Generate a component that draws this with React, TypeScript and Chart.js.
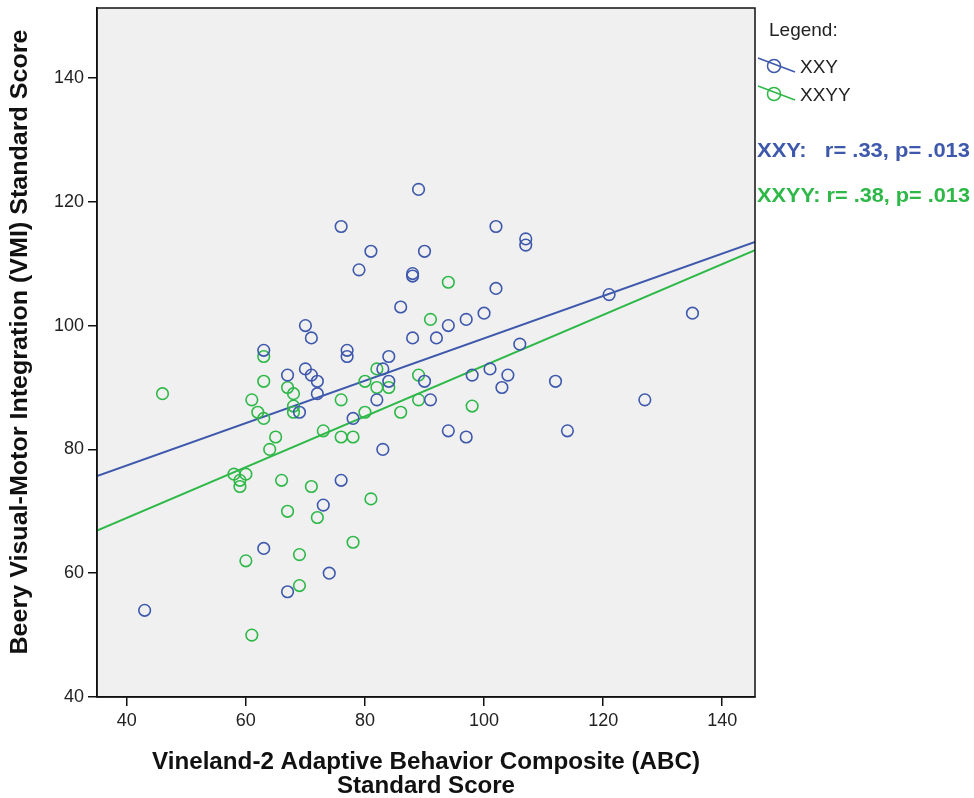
import React, { useEffect, useRef } from "react";
import { Chart, registerables } from "chart.js";
Chart.register(...registerables);

// XXY group (Vineland ABC, VMI)
const xxyX = [43, 63, 63, 67, 67, 69, 70, 70, 71, 71, 72, 72, 73, 74, 76, 76, 77, 77, 78, 79, 81, 82, 83, 83, 84, 84, 86, 88, 88, 88, 89, 90, 90, 91, 92, 94, 94, 97, 97, 98, 100, 101, 102, 102, 103, 104, 106, 107, 107, 112, 114, 121, 127, 135];
const xxyY = [54, 96, 64, 57, 92, 86, 100, 93, 98, 92, 91, 89, 71, 60, 116, 75, 96, 95, 85, 109, 112, 88, 93, 80, 95, 91, 103, 108, 108.4, 98, 122, 112, 91, 88, 98, 100, 83, 101, 82, 92, 102, 93, 116, 106, 90, 92, 97, 114, 113, 91, 83, 105, 88, 102];

// XXYY group
const xxyyX = [46, 58, 59, 59, 60, 60, 61, 61, 62, 63, 63, 63, 64, 65, 66, 67, 67, 68, 68, 68, 69, 69, 71, 72, 73, 76, 76, 78, 78, 80, 80, 81, 82, 82, 84, 86, 89, 89, 91, 94, 98];
const xxyyY = [89, 76, 75, 74, 76, 62, 88, 50, 86, 95, 91, 85, 80, 82, 75, 90, 70, 89, 87, 86, 63, 58, 74, 69, 83, 88, 82, 82, 65, 91, 86, 72, 93, 90, 90, 86, 92, 88, 101, 107, 87];

// Fit lines (endpoints at the axis limits)
const fitX = [35, 145.5];
const xxyFitY = [75.7, 113.5];
const xxyyFitY = [66.9, 112.2];

const xTicks = [40, 60, 80, 100, 120, 140];
const yTicks = [40, 60, 80, 100, 120, 140];
const seriesNames = ["XXY", "XXYY"];
const statsLabels = ["XXY:   r= .33, p= .013", "XXYY: r= .38, p= .013"];
const xTitle = ["Vineland-2 Adaptive Behavior Composite (ABC)", "Standard Score"];
const yTitle = "Beery Visual-Motor Integration (VMI) Standard Score";
const legendTitle = "Legend:";

const BLUE = "#3E58AC";
const GREEN = "#2EB848";
const FONT = "'Liberation Sans', Arial, sans-serif";

function toPts(xs: number[], ys: number[]) {
  return xs.map((x, i) => ({ x, y: ys[i] }));
}

function fitText(ctx: CanvasRenderingContext2D, text: string, x: number, y: number, font: string, color: string, width: number, align: "left" | "center") {
  ctx.save();
  ctx.font = font;
  ctx.fillStyle = color;
  ctx.textBaseline = "middle";
  const w = ctx.measureText(text).width;
  const s = width / w;
  ctx.translate(x, y);
  ctx.scale(s, 1);
  ctx.textAlign = align;
  ctx.fillText(text, 0, 0);
  ctx.restore();
}

const decor = {
  id: "decor",
  beforeDraw(chart: any) {
    const { ctx, chartArea: a } = chart;
    ctx.save();
    ctx.fillStyle = "#f0f0f0";
    ctx.fillRect(a.left, a.top, a.right - a.left, a.bottom - a.top);
    ctx.restore();
  },
  afterDraw(chart: any) {
    const { ctx, chartArea: a } = chart;
    ctx.save();
    ctx.strokeStyle = "#111";
    ctx.lineWidth = 1.5;
    ctx.strokeRect(a.left, a.top, a.right - a.left, a.bottom - a.top);
    ctx.restore();

    const cx = (a.left + a.right) / 2;
    fitText(ctx, xTitle[0], cx, 762, `bold 24px ${FONT}`, "#111", 548, "center");
    fitText(ctx, xTitle[1], cx, 786, `bold 24px ${FONT}`, "#111", 178, "center");

    ctx.save();
    ctx.translate(20, 342);
    ctx.rotate(-Math.PI / 2);
    fitText(ctx, yTitle, 0, 0, `bold 24px ${FONT}`, "#111", 625, "center");
    ctx.restore();

    // legend
    ctx.save();
    ctx.fillStyle = "#222";
    ctx.font = `19px ${FONT}`;
    ctx.textBaseline = "middle";
    ctx.textAlign = "left";
    ctx.fillText(legendTitle, 769, 31);
    const cols = [BLUE, GREEN];
    const ys = [66, 94];
    seriesNames.forEach((n, i) => {
      ctx.strokeStyle = cols[i];
      ctx.lineWidth = 1.5;
      ctx.beginPath();
      ctx.moveTo(758, ys[i] - 8);
      ctx.lineTo(795, ys[i] + 6);
      ctx.stroke();
      ctx.beginPath();
      ctx.arc(774, ys[i], 6.5, 0, Math.PI * 2);
      ctx.stroke();
      ctx.fillStyle = "#222";
      ctx.fillText(n, 800, ys[i] + 2);
    });
    ctx.restore();

    fitText(ctx, statsLabels[0], 757, 151, `bold 21px ${FONT}`, BLUE, 213, "left");
    fitText(ctx, statsLabels[1], 757, 196, `bold 21px ${FONT}`, GREEN, 213, "left");
  },
};

export default function App() {
  const ref = useRef<HTMLCanvasElement | null>(null);
  useEffect(() => {
    document.body.style.margin = "0";
    const canvas = ref.current!;
    const tickFont = { family: FONT, size: 18 };
    const chart = new Chart(canvas, {
      type: "scatter",
      data: {
        datasets: [
          {
            label: seriesNames[0],
            data: toPts(xxyX, xxyY),
            pointStyle: "circle",
            pointRadius: 5.8,
            pointBorderWidth: 1.6,
            pointBackgroundColor: "rgba(0,0,0,0)",
            pointBorderColor: BLUE,
          },
          {
            label: seriesNames[1],
            data: toPts(xxyyX, xxyyY),
            pointStyle: "circle",
            pointRadius: 5.8,
            pointBorderWidth: 1.6,
            pointBackgroundColor: "rgba(0,0,0,0)",
            pointBorderColor: GREEN,
          },
          {
            type: "line",
            label: "XXY fit",
            data: toPts(fitX, xxyFitY),
            borderColor: BLUE,
            borderWidth: 2,
            pointRadius: 0,
            showLine: true,
            fill: false,
          } as any,
          {
            type: "line",
            label: "XXYY fit",
            data: toPts(fitX, xxyyFitY),
            borderColor: GREEN,
            borderWidth: 2,
            pointRadius: 0,
            showLine: true,
            fill: false,
          } as any,
        ],
      },
      options: {
        animation: false,
        responsive: false,
        devicePixelRatio: 1,
        layout: { padding: { top: 8, right: 219, left: 0, bottom: 0 } },
        plugins: { legend: { display: false }, tooltip: { enabled: false } },
        scales: {
          x: {
            type: "linear",
            min: 35,
            max: 145.5,
            afterBuildTicks: (s: any) => {
              s.ticks = xTicks.map((v) => ({ value: v }));
            },
            afterFit: (s: any) => {
              s.height = 101;
              s.paddingLeft = 0;
              s.paddingRight = 0;
            },
            grid: { drawOnChartArea: false, drawTicks: true, tickLength: 9, color: "#111", lineWidth: 1.5 },
            border: { display: true, color: "#111", width: 1.5 },
            ticks: { font: tickFont, color: "#222", padding: 4, maxRotation: 0 },
          },
          y: {
            type: "linear",
            min: 40,
            max: 151.3,
            afterBuildTicks: (s: any) => {
              s.ticks = yTicks.map((v) => ({ value: v }));
            },
            afterFit: (s: any) => {
              s.width = 97;
              s.paddingTop = 0;
              s.paddingBottom = 0;
            },
            grid: { drawOnChartArea: false, drawTicks: true, tickLength: 9, color: "#111", lineWidth: 1.5 },
            border: { display: true, color: "#111", width: 1.5 },
            ticks: { font: tickFont, color: "#222", padding: 4 },
          },
        },
      },
      plugins: [decor],
    });
    return () => chart.destroy();
  }, []);
  return (
    <div style={{ width: 974, height: 798 }}>
      <canvas ref={ref} width={974} height={798} style={{ display: "block" }} />
    </div>
  );
}
